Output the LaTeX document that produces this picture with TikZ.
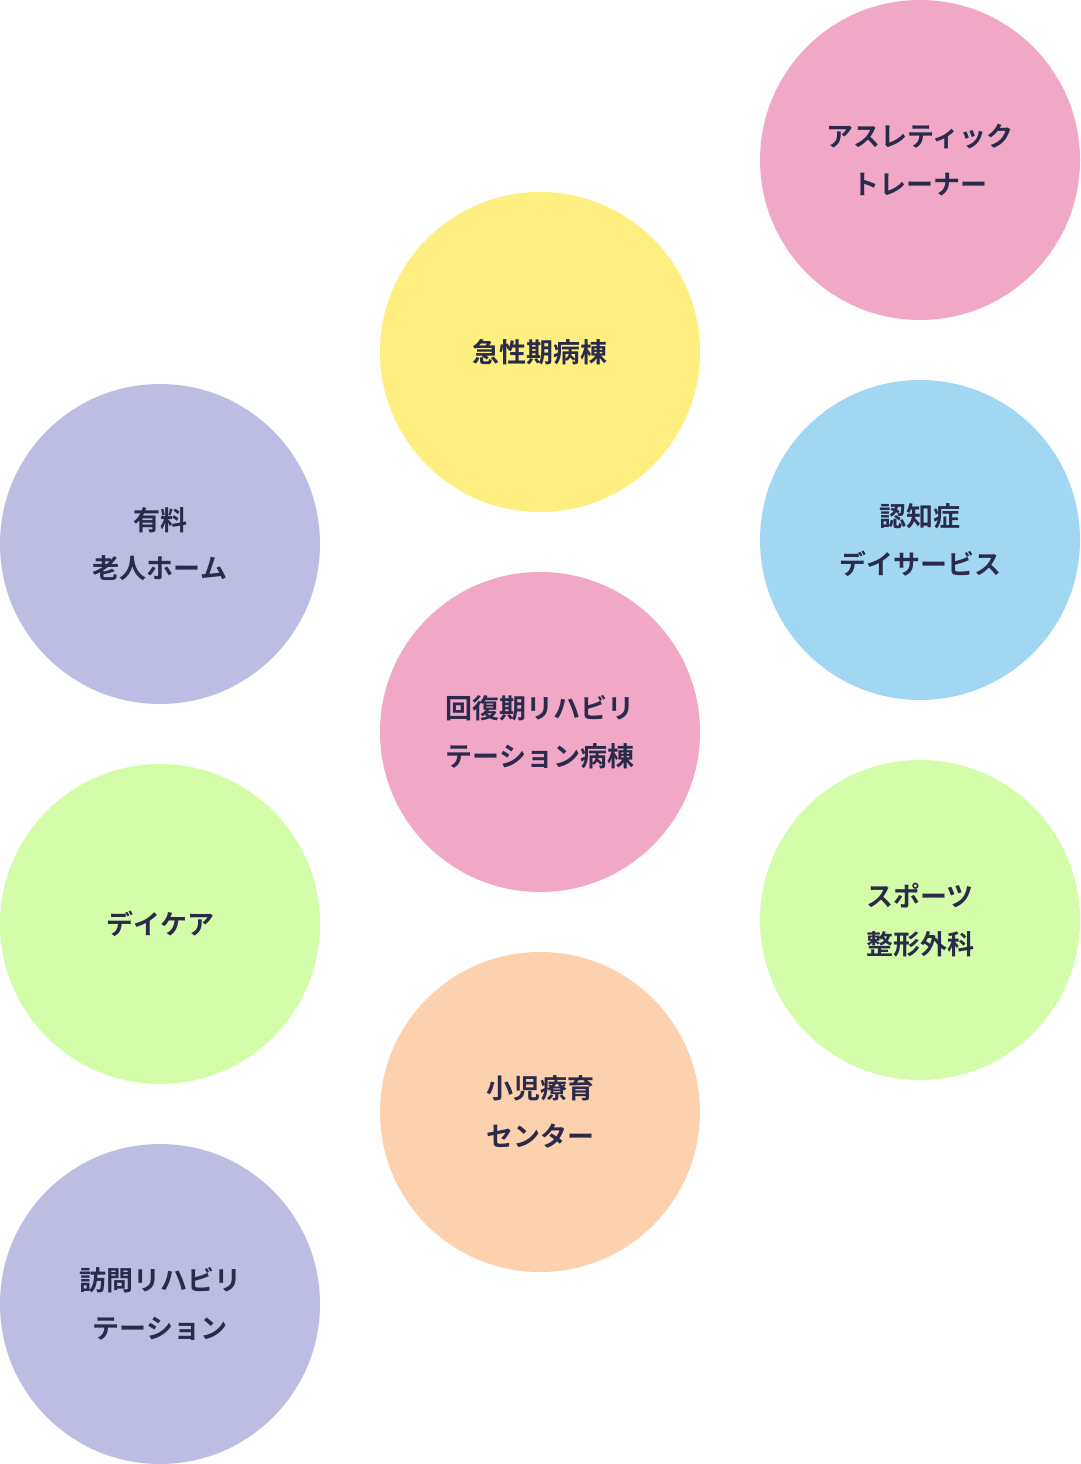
\documentclass[tikz,border=0pt]{standalone}
\usepackage{fontspec}
\setmainfont{Noto Sans CJK JP Bold}
\definecolor{cpink}{HTML}{F0A8C6}
\definecolor{cyel}{HTML}{FFEE80}
\definecolor{clav}{HTML}{BDBDE3}
\definecolor{cblue}{HTML}{A2D7F4}
\definecolor{cgreen}{HTML}{D4FDAA}
\definecolor{cpeach}{HTML}{FDD0AE}
\definecolor{ctext}{HTML}{2A2A4A}
\begin{document}
\begin{tikzpicture}[x=1pt,y=-1pt,
  bub/.style={circle,minimum size=320pt,inner sep=0pt,draw=none,text=ctext,align=center,font=\fontsize{27}{48}\selectfont}]
\useasboundingbox (0,0) rectangle (1080,1464);
\node[bub,fill=cpink] (ath) at (920,160) {アスレティック\\トレーナー};
\node[bub,fill=cyel] (acute) at (540,352) {急性期病棟};
\node[bub,fill=clav] (home) at (160,544) {有料\\老人ホーム};
\node[bub,fill=cblue] (dem) at (920,540) {認知症\\デイサービス};
\node[bub,fill=cpink] (rec) at (540,732) {回復期リハビリ\\テーション病棟};
\node[bub,fill=cgreen] (day) at (160,924) {デイケア};
\node[bub,fill=cgreen] (sport) at (920,920) {スポーツ\\整形外科};
\node[bub,fill=cpeach] (child) at (540,1112) {小児療育\\センター};
\node[bub,fill=clav] (visit) at (160,1304) {訪問リハビリ\\テーション};
\end{tikzpicture}
\end{document}
